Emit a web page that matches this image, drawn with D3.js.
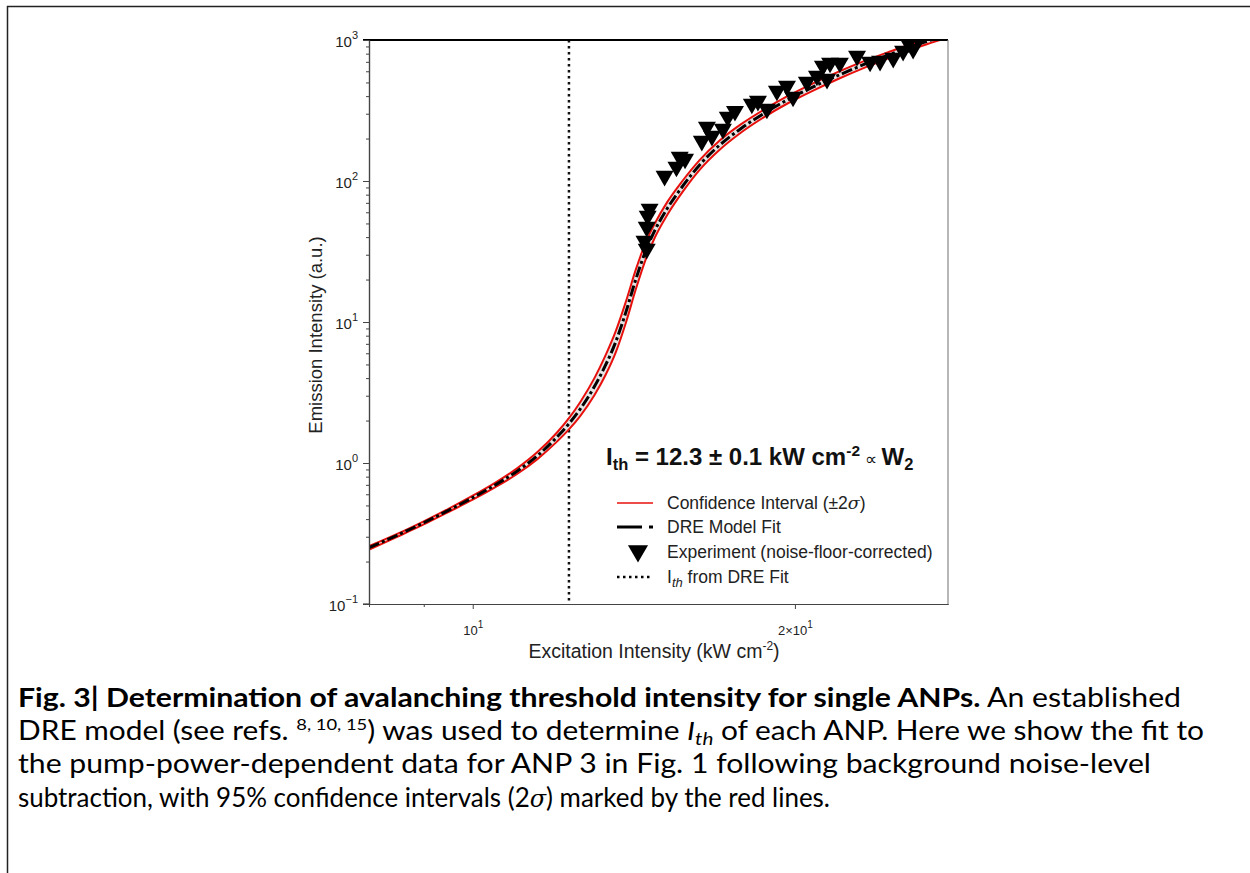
<!DOCTYPE html>
<html>
<head>
<meta charset="utf-8">
<script src="https://cdn.jsdelivr.net/npm/d3@7"></script>
<style>
  body { margin: 0; background: #fff; }
  svg { display: block; }
</style>
</head>
<body>
<div id="container"></div>
<script>
// DRE model fit
const fitX = [8, 8.5, 9, 9.5, 10, 10.5, 11, 11.5, 12, 12.3, 12.6, 13, 13.3, 13.6, 13.9, 14.2, 14.5, 14.8, 15.2, 15.7, 16.3, 17, 17.8, 18.7, 19.7, 20.8, 22, 23.3, 24.7, 26.3, 27.5];
const fitY = [0.251, 0.307, 0.377, 0.463, 0.568, 0.700, 0.875, 1.13, 1.54, 1.90, 2.41, 3.51, 4.90, 7.21, 11.7, 20.0, 31.6, 44.8, 64, 91.4, 130.6, 179, 235, 301, 378, 465, 565, 679, 804, 953, 1064];
// confidence interval (+-2 sigma)
const ciLow = [0.243, 0.300, 0.367, 0.451, 0.549, 0.674, 0.835, 1.07, 1.43, 1.73, 2.15, 3.05, 4.17, 6.06, 9.83, 17.0, 27.5, 39.9, 57.7, 83.4, 120.6, 166, 220, 283, 356, 438, 533, 642, 764, 910, 1016];
const ciHigh = [0.257, 0.314, 0.386, 0.475, 0.586, 0.726, 0.916, 1.20, 1.66, 2.08, 2.70, 4.03, 5.75, 8.58, 13.9, 23.4, 36.3, 50.2, 71.1, 100, 141.3, 193, 252, 320, 401, 493, 599, 717, 842, 997, 1114];
// experiment (noise-floor-corrected)
const expX = [14.54, 14.47, 14.54, 14.57, 14.63, 15.11, 15.50, 15.61, 15.79, 16.37, 16.55, 16.73, 17.13, 17.31, 17.58, 18.23, 18.47, 18.83, 19.24, 19.66, 19.92, 20.52, 20.97, 21.24, 21.57, 22.03, 21.43, 22.86, 23.51, 24.02, 24.71, 25.24, 25.79, 25.52, 26.08];
const expY = [32.4, 36.9, 46.4, 55.6, 62.3, 106.7, 123.7, 145.6, 141, 189, 238, 205, 230, 280, 308, 346, 363, 319, 428, 464, 388, 496, 547, 644, 676, 676, 520, 757, 687, 698, 733, 822, 849, 937, 1000];
const ith = 12.3;

const yMajor = [0.1, 1, 10, 100, 1000];
const yMajorExp = ["\u22121", "0", "1", "2", "3"];
const yMinor = [0.2, 0.3, 0.4, 0.5, 0.6, 0.7, 0.8, 0.9, 2, 3, 4, 5, 6, 7, 8, 9, 20, 30, 40, 50, 60, 70, 80, 90, 200, 300, 400, 500, 600, 700, 800, 900];
const xMajor = [10, 20];
const xMajorPre = ["10", "2\u00d710"];
const xMinor = [8, 9];

const legendLabels = ["Confidence Interval (\u00b12", "DRE Model Fit", "Experiment (noise-floor-corrected)", " from DRE Fit"];

const width = 1250;
const height = 873;
const marginLeft = 369;
const marginRight = 948;
const marginTop = 40;
const marginBottom = 604;

const svg = d3.select("#container").append("svg")
    .attr("width", width)
    .attr("height", height)
    .attr("font-family", "Liberation Sans, Arial, sans-serif");

// outer frame
svg.append("path")
    .attr("d", `M7.5,${height} V6.5 H${width}`)
    .attr("fill", "none")
    .attr("stroke", "#222")
    .attr("stroke-width", 1.5);

const x = d3.scaleLog().domain([8, 27.8]).range([marginLeft, marginRight]);
const y = d3.scaleLog().domain([0.1, 1000]).range([marginBottom, marginTop]);

svg.append("clipPath").attr("id", "plotclip")
    .append("rect")
    .attr("x", marginLeft).attr("y", marginTop)
    .attr("width", marginRight - marginLeft)
    .attr("height", marginBottom - marginTop);

const plot = svg.append("g").attr("clip-path", "url(#plotclip)");

const pts = fitX.map((d, i) => ({x: d, y: fitY[i], lo: ciLow[i], hi: ciHigh[i]}));

// threshold line
plot.append("line")
    .attr("x1", x(ith)).attr("x2", x(ith))
    .attr("y1", marginTop).attr("y2", marginBottom)
    .attr("stroke", "#111")
    .attr("stroke-width", 2.5)
    .attr("stroke-dasharray", "2.5,3.5");

// band
plot.append("path")
    .datum(pts)
    .attr("fill", "#e4e4e4")
    .attr("d", d3.area()
        .x(d => x(d.x))
        .y0(d => y(d.lo))
        .y1(d => y(d.hi))
        .curve(d3.curveMonotoneX));

const line = d3.line().curve(d3.curveMonotoneX);

plot.append("path")
    .datum(pts)
    .attr("fill", "none")
    .attr("stroke", "#e8100c")
    .attr("stroke-width", 2)
    .attr("d", line.x(d => x(d.x)).y(d => y(d.lo)));

plot.append("path")
    .datum(pts)
    .attr("fill", "none")
    .attr("stroke", "#e8100c")
    .attr("stroke-width", 2)
    .attr("d", line.x(d => x(d.x)).y(d => y(d.hi)));

plot.append("path")
    .datum(pts)
    .attr("fill", "none")
    .attr("stroke", "#000")
    .attr("stroke-width", 3)
    .attr("stroke-dasharray", "11,3,3,3")
    .attr("d", line.x(d => x(d.x)).y(d => y(d.y)));

// triangles
const tri = d3.symbol().type(d3.symbolTriangle).size(140);
plot.selectAll("path.exp")
    .data(expX)
    .enter()
    .append("path")
    .attr("class", "exp")
    .attr("d", tri)
    .attr("transform", (d, i) => `translate(${x(d)},${y(expY[i]) - 1}) rotate(180)`)
    .attr("fill", "#000");

// frame of the axes
svg.append("line").attr("x1", marginLeft - 6).attr("x2", marginRight)
    .attr("y1", marginTop).attr("y2", marginTop)
    .attr("stroke", "#000").attr("stroke-width", 2);
svg.append("line").attr("x1", marginRight).attr("x2", marginRight)
    .attr("y1", marginTop).attr("y2", marginBottom)
    .attr("stroke", "#888").attr("stroke-width", 1.2);

// y axis
const yAxisMinor = svg.append("g")
    .attr("transform", `translate(${marginLeft},0)`)
    .call(d3.axisLeft(y).tickValues(yMinor).tickSize(3).tickSizeOuter(0).tickFormat(""));
const yAxis = svg.append("g")
    .attr("transform", `translate(${marginLeft},0)`)
    .call(d3.axisLeft(y).tickValues(yMajor).tickSize(6).tickSizeOuter(0).tickFormat(""));
[yAxisMinor, yAxis].forEach(g => {
    g.select(".domain").attr("stroke", "#444").attr("stroke-width", 1.2);
    g.selectAll(".tick line").attr("stroke", "#444");
});

yAxis.selectAll(".tick text").remove();
yAxis.selectAll(".tick").each(function (d, i) {
    const t = d3.select(this).append("text")
        .attr("x", -11)
        .attr("y", 6)
        .attr("fill", "#222")
        .attr("font-size", 15)
        .attr("text-anchor", "end");
    t.append("tspan").text("10");
    t.append("tspan").attr("dy", -8).attr("font-size", 11).text(yMajorExp[i]);
});

svg.append("text")
    .attr("transform", `translate(${322},${335}) rotate(-90)`)
    .attr("text-anchor", "middle")
    .attr("font-size", 18.5)
    .attr("fill", "#222")
    .text("Emission Intensity (a.u.)");

// x axis
const xAxisMinor = svg.append("g")
    .attr("transform", `translate(0,${marginBottom})`)
    .call(d3.axisBottom(x).tickValues(xMinor).tickSize(3).tickSizeOuter(0).tickFormat(""));
const xAxis = svg.append("g")
    .attr("transform", `translate(0,${marginBottom})`)
    .call(d3.axisBottom(x).tickValues(xMajor).tickSize(5).tickSizeOuter(0).tickFormat(""));
[xAxisMinor, xAxis].forEach(g => {
    g.select(".domain").attr("stroke", "#444").attr("stroke-width", 1.2);
    g.selectAll(".tick line").attr("stroke", "#444");
});
svg.append("line").attr("x1", marginLeft - 6).attr("x2", marginLeft)
    .attr("y1", marginBottom).attr("y2", marginBottom)
    .attr("stroke", "#444").attr("stroke-width", 1.2);

xAxis.selectAll(".tick text").remove();
xAxis.selectAll(".tick").each(function (d, i) {
    const t = d3.select(this).append("text")
        .attr("y", 31)
        .attr("fill", "#222")
        .attr("font-size", 13)
        .attr("text-anchor", "middle");
    t.append("tspan").text(xMajorPre[i]);
    t.append("tspan").attr("dy", -7).attr("font-size", 10).text("1");
});

const xl = svg.append("text")
    .attr("x", 654)
    .attr("y", 658)
    .attr("text-anchor", "middle")
    .attr("font-size", 19.5)
    .attr("fill", "#222");
xl.append("tspan").text("Excitation Intensity (kW cm");
xl.append("tspan").attr("dy", -8).attr("font-size", 12).text("-2");
xl.append("tspan").attr("dy", 8).text(")");

// annotation
const ann = svg.append("text")
    .attr("x", 606)
    .attr("y", 465)
    .attr("font-size", 24)
    .attr("font-weight", "bold")
    .attr("fill", "#111");
ann.append("tspan").text("I");
ann.append("tspan").attr("dy", 5).attr("font-size", 16.5).text("th");
ann.append("tspan").attr("dy", -5).text(" = 12.3 \u00b1 0.1 kW cm");
ann.append("tspan").attr("dy", -9).attr("font-size", 15.5).text("-2");
ann.append("tspan").attr("dy", 9).attr("font-weight", "normal").attr("font-size", 17).text(" \u221d ");
ann.append("tspan").text("W");
ann.append("tspan").attr("dy", 5).attr("font-size", 16.5).text("2");

// legend
const legRows = [503, 527, 552, 577];
const leg = svg.append("g");
leg.append("line").attr("x1", 617).attr("x2", 653).attr("y1", legRows[0]).attr("y2", legRows[0])
    .attr("stroke", "#e8100c").attr("stroke-width", 1.5);
leg.append("line").attr("x1", 617).attr("x2", 642).attr("y1", legRows[1]).attr("y2", legRows[1])
    .attr("stroke", "#000").attr("stroke-width", 3);
leg.append("line").attr("x1", 649).attr("x2", 653).attr("y1", legRows[1]).attr("y2", legRows[1])
    .attr("stroke", "#000").attr("stroke-width", 3);
leg.append("path").attr("d", d3.symbol().type(d3.symbolTriangle).size(175))
    .attr("transform", `translate(638,${legRows[2] - 1}) rotate(180)`)
    .attr("fill", "#000");
leg.append("line").attr("x1", 617).attr("x2", 652).attr("y1", legRows[3]).attr("y2", legRows[3])
    .attr("stroke", "#000").attr("stroke-width", 2.5).attr("stroke-dasharray", "2.5,3.5");

legRows.forEach((ry, i) => {
    const t = leg.append("text")
        .attr("x", 667)
        .attr("y", ry + 6)
        .attr("font-size", 17.5)
        .attr("fill", "#222");
    if (i === 0) {
        t.append("tspan").text(legendLabels[0]);
        t.append("tspan").attr("font-style", "italic").attr("font-family", "DejaVu Serif, serif").text("\u03c3");
        t.append("tspan").text(")");
    } else if (i === 3) {
        t.append("tspan").text("I");
        t.append("tspan").attr("dy", 4).attr("font-size", 13).attr("font-style", "italic").text("th");
        t.append("tspan").attr("dy", -4).text(legendLabels[3]);
    } else {
        t.text(legendLabels[i]);
    }
});

// caption
const cap = svg.append("g")
    .attr("font-family", "Lato, Open Sans, sans-serif")
    .attr("font-size", 26)
    .attr("fill", "#000");

const c1 = cap.append("text").attr("x", 18).attr("y", 707)
    .attr("textLength", 1163).attr("lengthAdjust", "spacingAndGlyphs");
c1.append("tspan").attr("font-weight", "bold").text("Fig. 3| Determination of avalanching threshold intensity for single ANPs.");
c1.append("tspan").text(" An established");

const c2 = cap.append("text").attr("x", 18).attr("y", 740)
    .attr("textLength", 1186).attr("lengthAdjust", "spacingAndGlyphs");
c2.append("tspan").text("DRE model (see refs. ");
c2.append("tspan").attr("dy", -10).attr("font-size", 16).text("8, 10, 15");
c2.append("tspan").attr("dy", 10).text(") was used to determine ");
c2.append("tspan").attr("font-style", "italic").text("I");
c2.append("tspan").attr("font-style", "italic").attr("dy", 5).attr("font-size", 18).text("th");
c2.append("tspan").attr("dy", -5).text(" of each ANP. Here we show the fit to");

const c3 = cap.append("text").attr("x", 18).attr("y", 773)
    .attr("textLength", 1133).attr("lengthAdjust", "spacingAndGlyphs");
c3.text("the pump-power-dependent data for ANP 3 in Fig. 1 following background noise-level");

const c4 = cap.append("text").attr("x", 18).attr("y", 807)
    .attr("textLength", 812).attr("lengthAdjust", "spacingAndGlyphs");
c4.append("tspan").text("subtraction, with 95% confidence intervals (2");
c4.append("tspan").attr("font-style", "italic").attr("font-family", "DejaVu Serif, serif").attr("font-size", 24).text("\u03c3");
c4.append("tspan").text(") marked by the red lines.");
</script>
</body>
</html>
